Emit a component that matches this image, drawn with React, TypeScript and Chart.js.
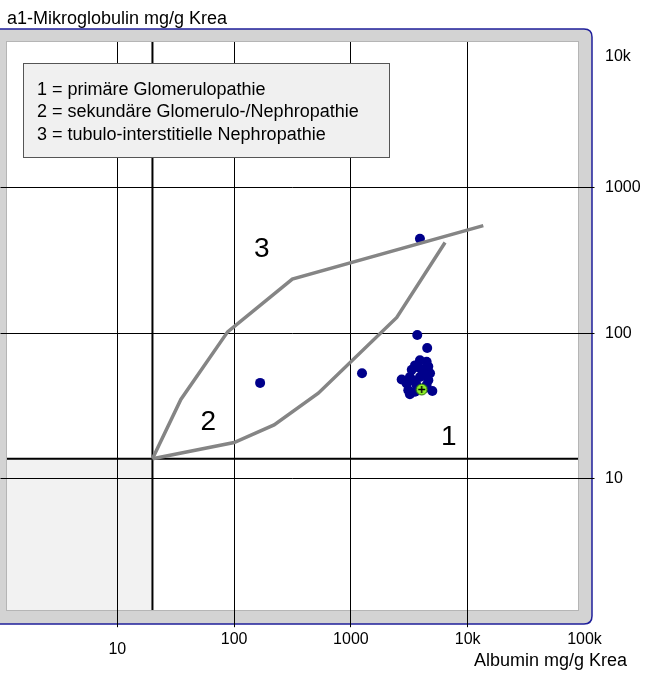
import { useEffect, useRef } from "react";
import { Chart, registerables } from "chart.js";
Chart.register(...registerables);

// ---- data ----
const xGrid = [10, 100, 1000, 10000];
const yGrid = [10, 100, 1000];
const xTickValues = [10, 100, 1000, 10000, 100000];
const xTickLabels = ["10", "100", "1000", "10k", "100k"];
const yTickValues = [10, 100, 1000, 10000];
const yTickLabels = ["10", "100", "1000", "10k"];

const albuminLimit = 20;
const a1mLimit = 13.7;

const upperX = [20, 35, 88, 315, 13600];
const upperY = [13.7, 35, 102, 235, 548];
const lowerX = [20, 100, 220, 526, 2470, 6400];
const lowerY = [13.7, 17.7, 23.4, 38.6, 128, 419];

const pointsX = [3900, 3700, 4500, 1245, 167, 2720, 3200, 4980, 3900, 4450, 3540, 4600, 3320, 4040, 4760, 3200, 3900, 4600, 3000, 3650, 4450, 3100, 3540, 3800, 4200, 3400, 4300];
const pointsY = [445, 97, 79, 53, 45.5, 48, 38, 40, 65, 63.5, 60, 59, 56, 56.5, 53, 50, 50, 47.5, 45, 44, 44, 40.5, 39.5, 58, 52, 47, 42];
const markerX = [4040];
const markerY = [41];

const regionTexts = ["1", "2", "3"];
const regionX = [6900, 60, 173];
const regionY = [19.3, 24.5, 379];

const legendLines = [
  "1 = primäre Glomerulopathie",
  "2 = sekundäre Glomerulo-/Nephropathie",
  "3 = tubulo-interstitielle Nephropathie",
];
const yTitle = "a1-Mikroglobulin mg/g Krea";
const xTitle = "Albumin mg/g Krea";

// ---- styles ----
const FONT = '"Liberation Sans", Arial, sans-serif';
const xLabelDy = [10, 0, 0, 0, 0];
const yLabelDy = [0, 0, 0, 15];

function makeMarker() {
  const c = document.createElement("canvas");
  c.width = 13;
  c.height = 13;
  const g = c.getContext("2d")!;
  g.beginPath();
  g.arc(6.5, 6.5, 5.5, 0, Math.PI * 2);
  g.fillStyle = "#8ef02a";
  g.fill();
  g.lineWidth = 1;
  g.strokeStyle = "#2a6a10";
  g.stroke();
  g.strokeStyle = "#000";
  g.lineWidth = 1.5;
  g.beginPath();
  g.moveTo(3, 6.5);
  g.lineTo(10, 6.5);
  g.moveTo(6.5, 3);
  g.lineTo(6.5, 10);
  g.stroke();
  return c;
}

function roundRectPath(ctx: CanvasRenderingContext2D, x: number, y: number, w: number, h: number, r: number) {
  ctx.beginPath();
  ctx.moveTo(x, y);
  ctx.lineTo(x + w - r, y);
  ctx.quadraticCurveTo(x + w, y, x + w, y + r);
  ctx.lineTo(x + w, y + h - r);
  ctx.quadraticCurveTo(x + w, y + h, x + w - r, y + h);
  ctx.lineTo(x, y + h);
}

const framePlugin = {
  id: "frame",
  beforeDraw(chart: any) {
    const ctx: CanvasRenderingContext2D = chart.ctx;
    const xs = chart.scales.x;
    const ys = chart.scales.y;
    ctx.save();
    ctx.fillStyle = "#fff";
    ctx.fillRect(0, 0, chart.width, chart.height);
    roundRectPath(ctx, -10, 29, 602, 595, 8);
    ctx.closePath();
    ctx.fillStyle = "#d3d3d3";
    ctx.fill();
    roundRectPath(ctx, -10, 29, 602, 595, 8);
    ctx.strokeStyle = "#1f1f9a";
    ctx.lineWidth = 1.5;
    ctx.stroke();
    ctx.fillStyle = "#fff";
    ctx.fillRect(7, 42, 571, 568);
    ctx.strokeStyle = "#b5b5b5";
    ctx.lineWidth = 1;
    ctx.strokeRect(6.5, 41.5, 572, 569);
    const px = xs.getPixelForValue(albuminLimit);
    const py = ys.getPixelForValue(a1mLimit);
    ctx.fillStyle = "#f2f2f2";
    ctx.fillRect(7, py, px - 7, 610 - py);
    ctx.restore();
  },
  beforeDatasetsDraw(chart: any) {
    const ctx: CanvasRenderingContext2D = chart.ctx;
    const px = chart.scales.x.getPixelForValue(albuminLimit);
    const py = chart.scales.y.getPixelForValue(a1mLimit);
    ctx.save();
    ctx.strokeStyle = "#000";
    ctx.lineWidth = 2;
    ctx.beginPath();
    ctx.moveTo(px, 42);
    ctx.lineTo(px, 610);
    ctx.moveTo(7, py);
    ctx.lineTo(578, py);
    ctx.stroke();
    ctx.restore();
  },
  afterDraw(chart: any) {
    const ctx: CanvasRenderingContext2D = chart.ctx;
    const xs = chart.scales.x;
    const ys = chart.scales.y;
    ctx.save();
    ctx.fillStyle = "#f0f0f0";
    ctx.fillRect(23, 63, 366, 94);
    ctx.strokeStyle = "#555";
    ctx.lineWidth = 1;
    ctx.strokeRect(23.5, 63.5, 366, 94);
    ctx.fillStyle = "#000";
    ctx.font = `18px ${FONT}`;
    ctx.textAlign = "left";
    ctx.textBaseline = "middle";
    legendLines.forEach((t, i) => ctx.fillText(t, 37, 90 + i * 22.5));
    ctx.font = `28px ${FONT}`;
    ctx.textAlign = "center";
    regionTexts.forEach((t, i) => {
      ctx.fillText(t, xs.getPixelForValue(regionX[i]), ys.getPixelForValue(regionY[i]));
    });
    ctx.font = `16px ${FONT}`;
    ctx.textAlign = "center";
    xTickValues.forEach((v, i) => {
      ctx.fillText(xTickLabels[i], xs.getPixelForValue(v), 640 + xLabelDy[i]);
    });
    ctx.textAlign = "left";
    yTickValues.forEach((v, i) => {
      ctx.fillText(yTickLabels[i], 605, ys.getPixelForValue(v) + yLabelDy[i]);
    });
    ctx.font = `18px ${FONT}`;
    ctx.fillText(yTitle, 7, 19);
    ctx.textAlign = "right";
    ctx.fillText(xTitle, 627, 661);
    ctx.restore();
  },
};

const toXY = (xs: number[], ys: number[]) => xs.map((x, i) => ({ x, y: ys[i] }));

export default function App() {
  const ref = useRef<HTMLCanvasElement>(null);
  useEffect(() => {
    document.body.style.margin = "0";
    const marker = makeMarker();
    const chart = new Chart(ref.current!, {
      type: "scatter",
      data: {
        datasets: [
          { data: toXY(upperX, upperY), showLine: true, borderColor: "#858585", borderWidth: 3.5, pointRadius: 0, fill: false },
          { data: toXY(lowerX, lowerY), showLine: true, borderColor: "#858585", borderWidth: 3.5, pointRadius: 0, fill: false },
          { data: toXY(markerX, markerY), pointStyle: marker as any, pointRadius: 6 },
          { data: toXY(pointsX, pointsY), backgroundColor: "#00008b", borderWidth: 0, pointRadius: 5 },
        ],
      },
      options: {
        responsive: false,
        animation: false,
        devicePixelRatio: 1,
        layout: { autoPadding: false, padding: { left: 0.5, top: 42, right: 0, bottom: 0 } },
        plugins: { legend: { display: false }, tooltip: { enabled: false } },
        scales: {
          x: {
            type: "logarithmic",
            position: "bottom",
            min: 1,
            max: 100000,
            afterBuildTicks: (s: any) => {
              s.ticks = xGrid.map((v) => ({ value: v }));
            },
            afterFit: (s: any) => {
              s.height = 677 - 624.2;
            },
            ticks: { display: false },
            border: { display: false },
            grid: { color: "#000", lineWidth: 1, tickLength: 3, drawTicks: true },
          },
          y: {
            type: "logarithmic",
            position: "right",
            min: 1,
            max: 10000,
            afterBuildTicks: (s: any) => {
              s.ticks = yGrid.map((v) => ({ value: v }));
            },
            afterFit: (s: any) => {
              s.width = 645 - 584.5;
            },
            ticks: { display: false },
            border: { display: false },
            grid: { color: "#000", lineWidth: 1, tickLength: 10, drawTicks: true },
          },
        },
      },
      plugins: [framePlugin],
    });
    return () => chart.destroy();
  }, []);
  return <canvas ref={ref} width={645} height={677} style={{ display: "block" }} />;
}
